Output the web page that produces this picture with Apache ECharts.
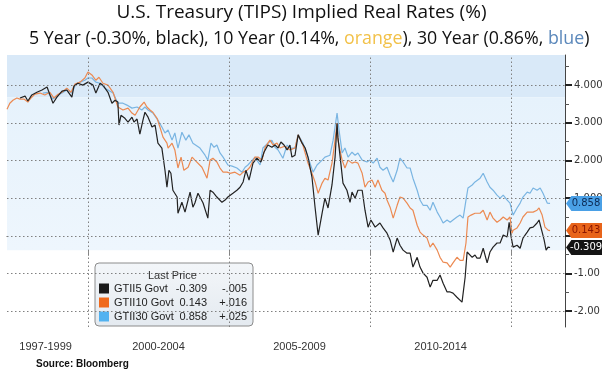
<!DOCTYPE html>
<html><head><meta charset="utf-8">
<script src="https://cdn.jsdelivr.net/npm/echarts@6/dist/echarts.min.js"></script>
<style>html,body{margin:0;padding:0;background:#fff}#c{width:603px;height:371px}</style>
</head><body><div id="c"></div>
<script>
// ---------- data ----------
const TITLE = 'U.S. Treasury (TIPS) Implied Real Rates (%)';
const SUBTITLE = '5 Year (-0.30%, black), 10 Year (0.14%, {o|orange}), 30 Year (0.86%, {b|blue})';
const SOURCE = 'Source: Bloomberg';
const LEGEND_TITLE = 'Last Price';

const seriesNames = ['GTII5 Govt', 'GTII10 Govt', 'GTII30 Govt'];
const lastPrices = ['-0.309', '0.143', '0.858'];
const netChanges = ['-.005', '+.016', '+.025'];

const periodLabels = ['1997-1999', '2000-2004', '2005-2009', '2010-2014'];
const periodCenters = [1998.5, 2002.5, 2007.5, 2012.5];
const periodBreaks = [2000, 2005, 2010, 2015];
const yTickValues = [-2, -1, 0, 1, 2, 3, 4];
const yMinorValues = [-1.5, -0.5, 0.5, 1.5, 2.5, 3.5, 4.5];

const dates5 = [1997.59,1997.66,1997.77,1997.87,1998.01,1998.19,1998.37,1998.55,1998.62,1998.76,
1998.90,1999.08,1999.25,1999.43,1999.50,1999.64,1999.82,2000.00,2000.18,2000.28,
2000.43,2000.53,2000.71,2000.85,2000.96,2001.06,2001.10,2001.17,2001.31,2001.42,
2001.56,2001.63,2001.74,2001.84,2001.95,2002.02,2002.13,2002.20,2002.27,2002.38,
2002.48,2002.62,2002.73,2002.80,2002.87,2002.94,2003.01,2003.16,2003.19,2003.33,
2003.44,2003.51,2003.62,2003.72,2003.79,2003.90,2004.08,2004.25,2004.33,2004.43,
2004.57,2004.75,2004.86,2004.96,2005.14,2005.28,2005.39,2005.50,2005.60,2005.71,
2005.85,2005.99,2006.13,2006.24,2006.38,2006.52,2006.63,2006.74,2006.84,2006.95,
2007.06,2007.16,2007.23,2007.34,2007.45,2007.59,2007.70,2007.80,2007.94,2008.05,
2008.16,2008.30,2008.40,2008.51,2008.65,2008.76,2008.83,2008.86,2008.94,2009.04,
2009.18,2009.29,2009.36,2009.47,2009.57,2009.72,2009.82,2009.93,2010.03,2010.18,
2010.35,2010.46,2010.60,2010.71,2010.82,2010.96,2011.06,2011.17,2011.31,2011.42,
2011.52,2011.67,2011.77,2011.88,2012.02,2012.13,2012.23,2012.38,2012.48,2012.59,
2012.73,2012.84,2012.94,2013.08,2013.26,2013.37,2013.44,2013.51,2013.62,2013.72,
2013.79,2013.90,2014.01,2014.15,2014.25,2014.36,2014.50,2014.61,2014.72,2014.86,
2014.93,2015.00,2015.07,2015.21,2015.32,2015.42,2015.57,2015.67,2015.78,2015.92,
2015.99,2016.10,2016.17,2016.24,2016.31,2016.38];
const rates5 = [3.66,3.68,3.71,3.58,3.74,3.81,3.87,3.95,3.92,3.52,
3.68,3.84,3.87,3.68,3.97,4.05,4.00,4.08,4.00,3.79,
4.05,4.00,3.81,3.52,3.60,3.55,2.94,3.20,3.12,3.02,
3.15,3.02,3.10,2.70,3.07,3.28,3.15,3.02,2.89,2.94,
2.46,2.33,1.74,1.29,1.74,1.66,1.21,1.03,0.60,0.89,
0.63,0.60,1.16,0.76,0.87,1.13,0.87,0.47,1.21,1.16,
1.03,0.89,0.95,1.03,1.13,1.21,1.29,1.43,1.74,1.48,
1.93,2.06,1.96,2.22,2.41,2.35,2.41,2.33,2.49,2.41,
2.28,2.41,2.09,2.14,2.68,2.46,2.33,2.09,1.56,0.76,
0.02,0.60,1.00,0.74,1.35,2.09,2.99,2.62,2.09,1.40,
1.21,0.89,1.16,1.00,1.21,1.21,0.68,0.23,0.42,0.23,
0.34,0.21,0.07,-0.11,-0.43,-0.06,-0.25,-0.38,-0.46,-0.46,
-0.83,-0.57,-0.83,-0.99,-1.10,-1.36,-1.18,-1.18,-1.04,-1.26,
-1.49,-1.49,-1.52,-1.63,-1.76,-1.10,-0.43,-0.46,-0.57,-0.51,
-0.59,-0.59,-0.33,-0.72,-0.43,-0.30,-0.19,-0.19,0.02,-0.03,
0.36,-0.03,-0.30,-0.25,-0.33,-0.06,0.10,0.21,0.23,0.34,
0.42,0.10,-0.11,-0.38,-0.30,-0.31];

const dates10 = [1997.13,1997.23,1997.34,1997.48,1997.59,1997.73,1997.87,1997.98,1998.12,1998.30,
1998.47,1998.65,1998.79,1998.94,1999.08,1999.25,1999.40,1999.54,1999.72,1999.89,
2000.00,2000.14,2000.28,2000.39,2000.53,2000.71,2000.89,2001.06,2001.24,2001.42,
2001.56,2001.67,2001.84,2001.99,2002.09,2002.20,2002.30,2002.45,2002.55,2002.66,
2002.80,2002.84,2002.98,2003.08,2003.19,2003.30,2003.40,2003.55,2003.69,2003.79,
2004.04,2004.22,2004.33,2004.43,2004.57,2004.68,2004.79,2004.93,2005.04,2005.21,
2005.39,2005.50,2005.64,2005.74,2005.92,2006.03,2006.17,2006.28,2006.45,2006.56,
2006.70,2006.81,2006.98,2007.16,2007.34,2007.45,2007.62,2007.80,2007.94,2008.05,
2008.16,2008.30,2008.40,2008.51,2008.65,2008.76,2008.83,2008.86,2009.01,2009.11,
2009.22,2009.36,2009.47,2009.57,2009.72,2009.82,2009.93,2010.07,2010.18,2010.28,
2010.42,2010.53,2010.60,2010.71,2010.82,2010.96,2011.06,2011.17,2011.31,2011.42,
2011.52,2011.67,2011.77,2011.88,2012.02,2012.13,2012.23,2012.38,2012.48,2012.59,
2012.73,2012.84,2012.94,2013.08,2013.19,2013.30,2013.40,2013.47,2013.58,2013.72,
2013.90,2014.01,2014.15,2014.25,2014.36,2014.50,2014.61,2014.72,2014.86,2014.96,
2015.03,2015.07,2015.21,2015.32,2015.42,2015.57,2015.67,2015.78,2015.92,2015.99,
2016.10,2016.20,2016.31,2016.38];
const rates10 = [3.36,3.52,3.60,3.66,3.63,3.63,3.55,3.66,3.76,3.79,
3.74,3.81,3.66,3.76,3.81,3.92,3.81,4.03,4.08,4.19,
4.35,4.27,4.13,4.21,4.05,4.00,3.81,3.42,3.34,3.39,
3.26,3.20,3.42,3.55,3.42,3.34,3.28,3.12,2.89,2.62,
2.46,2.33,2.46,2.28,1.80,2.09,1.74,1.82,2.09,2.01,
1.82,1.53,2.01,2.06,1.96,1.80,1.69,1.69,1.66,1.69,
1.61,1.69,1.74,1.82,2.09,2.09,2.01,2.35,2.54,2.41,
2.46,2.33,2.38,2.28,2.33,2.68,2.41,1.93,1.66,1.43,
1.13,1.40,1.53,1.48,1.93,2.54,2.99,2.54,2.01,1.80,
2.01,1.93,1.96,1.93,1.66,1.29,1.43,1.48,1.29,1.48,
1.21,1.13,0.95,0.76,0.47,0.81,1.03,1.00,0.87,0.74,
0.68,0.28,0.10,0.02,-0.06,-0.30,-0.19,-0.38,-0.57,-0.70,
-0.72,-0.83,-0.72,-0.57,-0.65,-0.65,-0.19,0.50,0.55,0.60,
0.60,0.68,0.42,0.63,0.47,0.36,0.42,0.50,0.42,0.50,
0.07,0.15,0.21,0.34,0.50,0.63,0.63,0.63,0.68,0.74,
0.55,0.23,0.15,0.14];

const dates30 = [1998.40,1998.58,1998.76,1998.94,1999.08,1999.25,1999.43,1999.57,1999.72,1999.89,
2000.00,2000.14,2000.28,2000.43,2000.60,2000.89,2001.06,2001.24,2001.38,2001.56,
2001.74,2001.91,2002.02,2002.13,2002.30,2002.48,2002.62,2002.73,2002.84,2002.98,
2003.08,2003.19,2003.33,2003.47,2003.58,2003.72,2003.79,2003.97,2004.15,2004.25,
2004.36,2004.47,2004.57,2004.68,2004.79,2004.96,2005.11,2005.28,2005.46,2005.57,
2005.67,2005.92,2006.10,2006.20,2006.38,2006.52,2006.63,2006.74,2006.91,2007.06,
2007.16,2007.34,2007.45,2007.62,2007.80,2007.98,2008.12,2008.30,2008.40,2008.58,
2008.69,2008.83,2008.90,2009.01,2009.11,2009.22,2009.36,2009.47,2009.57,2009.72,
2009.89,2010.00,2010.11,2010.25,2010.35,2010.46,2010.60,2010.71,2010.82,2010.96,
2011.06,2011.17,2011.31,2011.42,2011.52,2011.67,2011.77,2011.88,2012.02,2012.13,
2012.23,2012.38,2012.48,2012.59,2012.73,2012.84,2012.94,2013.08,2013.19,2013.30,
2013.40,2013.47,2013.62,2013.72,2013.90,2014.01,2014.15,2014.25,2014.36,2014.50,
2014.61,2014.72,2014.86,2014.96,2015.07,2015.21,2015.32,2015.42,2015.57,2015.67,
2015.78,2015.92,2016.03,2016.13,2016.28,2016.38];
const rates30 = [3.79,3.81,3.63,3.74,3.79,3.87,3.79,4.03,4.08,4.13,
4.19,4.19,4.08,4.05,3.92,3.79,3.52,3.52,3.47,3.39,
3.42,3.34,3.42,3.34,3.26,3.07,2.89,2.73,2.81,2.54,
2.73,2.33,2.75,2.54,2.68,2.46,2.49,2.33,2.14,2.01,
2.46,2.35,2.41,2.20,2.09,1.88,1.85,1.80,1.69,1.82,
1.88,2.09,1.88,2.33,2.46,2.54,2.35,2.28,2.06,2.41,
2.33,2.33,2.68,2.46,2.09,1.69,1.88,2.01,2.09,2.14,
2.54,3.26,2.81,2.20,2.33,2.09,2.22,2.14,2.20,2.01,
1.96,2.01,1.93,2.06,1.82,1.74,1.82,1.61,1.43,1.74,
2.06,1.96,1.80,1.80,1.53,1.21,0.95,0.81,0.81,0.68,
0.89,0.63,0.50,0.34,0.42,0.36,0.42,0.50,0.55,0.47,
0.95,1.27,1.35,1.43,1.53,1.66,1.43,1.29,1.21,1.08,
1.00,1.08,0.95,0.87,0.55,0.74,0.87,1.03,1.16,1.13,
1.27,1.21,1.27,1.13,0.87,0.86];

// ---------- axis ranges / shading bands ----------
const X_MIN = 1997.13, X_MAX = 2016.91;
const Y_MIN = -2.42, Y_MAX = 4.80;
const BAND_HI = 3.68, BAND_LO = -0.38;

// ---------- styles ----------
const LINE_COLORS = ['#222222', '#ec8a52', '#7ab5e2'];
const SWATCH_COLORS = ['#1a1a1a', '#f06a1c', '#52b2f0'];
const TAG_COLORS = ['#141414', '#e8641a', '#4aa0e6'];
const TAG_TEXT = ['#ffffff', '#8a1500', '#0c2a55'];
const TAG_PATH = 'path://M0,7 L6,0 L40,0 L40,14 L6,14 Z';

const pair = (xs, ys) => xs.map((x, i) => [x, ys[i]]);
const allDates = [dates5, dates10, dates30];
const allRates = [rates5, rates10, rates30];

const yearTicks = [];
for (let y = Math.ceil(X_MIN); y <= Math.floor(X_MAX); y++) yearTicks.push(y);

function makeSeries(i) {
  return {
    name: seriesNames[i],
    type: 'line',
    data: pair(allDates[i], allRates[i]),
    showSymbol: false,
    symbol: 'none',
    z: 3,
    lineStyle: { color: LINE_COLORS[i], width: 1.2 },
    itemStyle: { color: LINE_COLORS[i] },
    markPoint: {
      silent: true,
      symbol: TAG_PATH,
      symbolSize: [36, 15],
      symbolKeepAspect: false,
      symbolOffset: [19, 0],
      itemStyle: { color: TAG_COLORS[i] },
      label: {
        show: true, position: 'inside', offset: [2, 0],
        formatter: lastPrices[i],
        color: TAG_TEXT[i], fontFamily: 'DejaVu Sans', fontSize: 10
      },
      data: [{ coord: [X_MAX, parseFloat(lastPrices[i])] }]
    }
  };
}

const chart = echarts.init(document.getElementById('c'));
chart.setOption({
  animation: false,
  backgroundColor: '#ffffff',
  title: [
    { text: TITLE, left: 'center', top: 3, padding: 0,
      textStyle: { fontFamily: 'Open Sans', fontSize: 19, fontWeight: 'normal', color: '#111' } },
    { text: SUBTITLE, left: 29, top: 30, padding: 0,
      textStyle: { fontFamily: 'Open Sans', fontSize: 17.8, fontWeight: 'normal', color: '#111',
        rich: {
          o: { fontFamily: 'Open Sans', fontSize: 17.8, color: '#f2c148' },
          b: { fontFamily: 'Open Sans', fontSize: 17.8, color: '#5b88bb' }
        } } },
    { text: SOURCE, left: 36, top: 359, padding: 0,
      textStyle: { fontFamily: 'Liberation Sans', fontSize: 10, fontWeight: 'bold', color: '#111' } },
    { text: LEGEND_TITLE, left: 148, top: 270, padding: 0, z: 10,
      textStyle: { fontFamily: 'Liberation Sans', fontSize: 11, fontWeight: 'normal', color: '#333' } }
  ],
  legend: {
    data: seriesNames.map((n, i) => ({ name: n, itemStyle: { color: SWATCH_COLORS[i] } })),
    orient: 'vertical', left: 95, top: 263,
    padding: [19, 6, 3, 4], itemGap: 1, itemWidth: 10, itemHeight: 10,
    icon: 'rect', selectedMode: false,
    backgroundColor: { type: 'linear', x: 0, y: 0, x2: 0, y2: 1,
      colorStops: [{ offset: 0, color: '#f3f6f9' }, { offset: 1, color: '#e4eaf0' }] },
    borderColor: '#8c8c8c', borderWidth: 1, borderRadius: 4,
    formatter: name => {
      const i = seriesNames.indexOf(name);
      return '{n|' + name + '}{v|' + lastPrices[i] + '}{c|' + netChanges[i] + '}';
    },
    textStyle: {
      fontFamily: 'Liberation Sans', fontSize: 11, color: '#222', lineHeight: 13,
      rich: {
        n: { width: 62, fontFamily: 'Liberation Sans', fontSize: 11, color: '#222' },
        v: { width: 31, align: 'right', fontFamily: 'Liberation Sans', fontSize: 11, color: '#222' },
        c: { width: 40, align: 'right', fontFamily: 'Liberation Sans', fontSize: 11, color: '#222' }
      }
    }
  },
  grid: { left: 7, right: 38, top: 55, bottom: 44, containLabel: false, outerBoundsMode: 'none' },
  xAxis: [
    { type: 'value', min: X_MIN, max: X_MAX, position: 'bottom',
      axisLine: { show: true, lineStyle: { color: '#555', width: 1 } },
      axisTick: { show: true, customValues: yearTicks, length: 5, lineStyle: { color: '#777' } },
      axisLabel: { show: true, customValues: periodCenters, margin: 14,
        formatter: v => { const k = periodCenters.findIndex(c => Math.abs(c - v) < 1e-6); return k >= 0 ? periodLabels[k] : ''; },
        fontFamily: 'Liberation Sans', fontSize: 11, color: '#333' },
      splitLine: { show: false } },
    { type: 'value', min: X_MIN, max: X_MAX, position: 'bottom',
      axisLine: { show: false },
      axisTick: { show: true, customValues: periodBreaks, length: 20, lineStyle: { color: '#888' } },
      axisLabel: { show: false }, splitLine: { show: false } }
  ],
  yAxis: [
    { type: 'value', position: 'right', min: Y_MIN, max: Y_MAX,
      axisLine: { show: true, lineStyle: { color: '#444', width: 1 } },
      axisTick: { show: true, customValues: yTickValues, length: 7, lineStyle: { color: '#222', width: 2 } },
      axisLabel: { show: true, customValues: yTickValues, margin: 9,
        formatter: v => (v >= 0 ? v.toFixed(3) : v.toFixed(2)),
        fontFamily: 'DejaVu Sans', fontSize: 10, color: '#333' },
      splitLine: { show: false } },
    { type: 'value', position: 'right', min: Y_MIN, max: Y_MAX,
      axisLine: { show: false },
      axisTick: { show: true, customValues: yMinorValues, length: 4, lineStyle: { color: '#555' } },
      axisLabel: { show: false }, splitLine: { show: false } }
  ],
  series: [
    { name: 'background', type: 'line', data: [], z: 1, silent: true,
      markArea: { silent: true, data: [
        [{ yAxis: BAND_HI, itemStyle: { color: '#d9e9f8' } }, { yAxis: Y_MAX }],
        [{ yAxis: BAND_LO, itemStyle: { color: { type: 'linear', x: 0, y: 0, x2: 0, y2: 1,
            colorStops: [{ offset: 0, color: '#e6f2fc' }, { offset: 1, color: '#eef6fd' }] } } }, { yAxis: BAND_HI }]
      ] },
      markLine: { silent: true, symbol: ['none', 'none'], label: { show: false },
        lineStyle: { color: '#808080', type: [1.5, 2.5], width: 1 },
        data: [...yTickValues.map(v => ({ yAxis: v })), ...periodBreaks.map(v => ({ xAxis: v }))] } },
    makeSeries(2),
    makeSeries(1),
    makeSeries(0)
  ]
});
</script></body></html>
